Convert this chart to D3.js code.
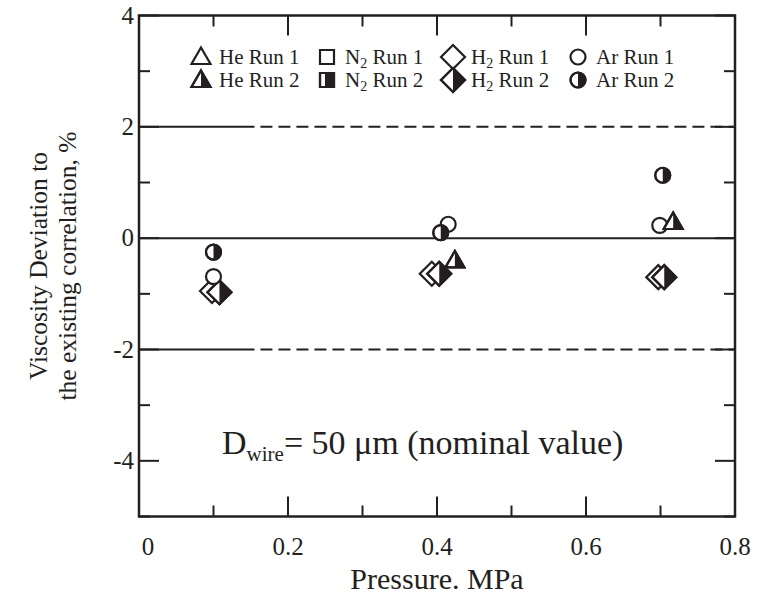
<!DOCTYPE html>
<html>
<head>
<meta charset="utf-8">
<script src="https://cdn.jsdelivr.net/npm/d3@7"></script>
<style>
  body { margin: 0; background: #fff; }
  svg text { font-family: "Liberation Serif", "Times New Roman", serif; fill: #231f20; }
</style>
</head>
<body>
<svg id="chart" width="760" height="598"></svg>
<script>
// data (pressure MPa, deviation %)
var heRun2 = [[0.424, -0.40], [0.717, 0.29]];
var h2Run1 = [[0.098, -0.95], [0.393, -0.64], [0.697, -0.70]];
var h2Run2 = [[0.108, -0.97], [0.403, -0.64], [0.705, -0.70]];
var arRun1 = [[0.100, -0.69], [0.415, 0.25], [0.699, 0.23]];
var arRun2 = [[0.100, -0.25], [0.405, 0.10], [0.703, 1.13]];

var xTicks = [0, 0.2, 0.4, 0.6, 0.8];
var yTicks = [-4, -2, 0, 2, 4];
var refLines = [2, -2];

var legendRow1 = ['He Run 1', 'N2 Run 1', 'H2 Run 1', 'Ar Run 1'];
var legendRow2 = ['He Run 2', 'N2 Run 2', 'H2 Run 2', 'Ar Run 2'];

var svg = d3.select('#chart');
var ink = '#231f20';

var x = d3.scaleLinear().domain([0, 0.8]).range([139, 735]);
var y = d3.scaleLinear().domain([-5, 4]).range([516.5, 15.5]);

// reference lines
svg.append('line')
  .attr('x1', x(0)).attr('x2', x(0.8))
  .attr('y1', y(0)).attr('y2', y(0))
  .attr('stroke', ink).attr('stroke-width', 2);

// +-2 % lines: solid stretch near the axis, dashed beyond
svg.selectAll('.refs').data(refLines).enter().append('line')
  .attr('class', 'refs')
  .attr('x1', x(0)).attr('x2', x(0.155))
  .attr('y1', function (d) { return y(d) })
  .attr('y2', function (d) { return y(d) })
  .attr('stroke', ink).attr('stroke-width', 2);
svg.selectAll('.refd').data(refLines).enter().append('line')
  .attr('class', 'refd')
  .attr('x1', x(0.163)).attr('x2', x(0.8))
  .attr('y1', function (d) { return y(d) })
  .attr('y2', function (d) { return y(d) })
  .attr('stroke', ink).attr('stroke-width', 2)
  .attr('stroke-dasharray', '12,6');

// ticks, drawn inward on all four sides
var minor = 11, major = 20;
var xAll = d3.range(0, 0.81, 0.1);
var yAll = d3.range(-5, 4.1, 1);
xAll.forEach(function (v) {
  var len = (Math.round(v * 10) % 2 === 0) ? major : minor;
  svg.append('line').attr('x1', x(v)).attr('x2', x(v))
    .attr('y1', y(-5)).attr('y2', y(-5) - len)
    .attr('stroke', ink).attr('stroke-width', 2);
  svg.append('line').attr('x1', x(v)).attr('x2', x(v))
    .attr('y1', y(4)).attr('y2', y(4) + len)
    .attr('stroke', ink).attr('stroke-width', 2);
});
yAll.forEach(function (v) {
  var len = (Math.round(v) % 2 === 0) ? major : minor;
  svg.append('line').attr('x1', x(0)).attr('x2', x(0) + len)
    .attr('y1', y(v)).attr('y2', y(v))
    .attr('stroke', ink).attr('stroke-width', 2);
  svg.append('line').attr('x1', x(0.8)).attr('x2', x(0.8) - len)
    .attr('y1', y(v)).attr('y2', y(v))
    .attr('stroke', ink).attr('stroke-width', 2);
});

// frame
svg.append('rect')
  .attr('x', x(0)).attr('y', y(4))
  .attr('width', x(0.8) - x(0)).attr('height', y(-5) - y(4))
  .attr('fill', 'none').attr('stroke', ink).attr('stroke-width', 2.5);

// tick labels
svg.selectAll('.xl').data(xTicks).enter().append('text')
  .attr('class', 'xl')
  .attr('x', function (d) { return x(d) + (d === 0 ? 9 : 0) })
  .attr('y', 555)
  .attr('text-anchor', 'middle')
  .attr('font-size', 25)
  .text(function (d) { return d === 0 ? '0' : d3.format('.1f')(d) });

svg.selectAll('.yl').data(yTicks).enter().append('text')
  .attr('class', 'yl')
  .attr('x', 134)
  .attr('y', function (d) { return y(d) + 8 })
  .attr('text-anchor', 'end')
  .attr('font-size', 25)
  .text(function (d) { return d });

// axis titles
svg.append('text')
  .attr('x', 437).attr('y', 589)
  .attr('text-anchor', 'middle')
  .attr('font-size', 30)
  .text('Pressure. MPa');

var yt = svg.append('text')
  .attr('transform', 'translate(47,266) rotate(-90)')
  .attr('text-anchor', 'middle')
  .attr('font-size', 25.5);
yt.append('tspan').attr('x', 0).attr('dy', 0).text('Viscosity Deviation to');
yt.append('tspan').attr('x', 0).attr('dy', 29).text('the existing correlation, %');

// annotation
var ann = svg.append('text')
  .attr('x', 222).attr('y', 454)
  .attr('font-size', 34);
ann.append('tspan').text('D');
ann.append('tspan').attr('font-size', 21).attr('dy', 7).text('wire');
ann.append('tspan').attr('dy', -7).text('= 50 \u03bcm (nominal value)');

// marker shapes
var shapes = {
  tri: { outline: 'M0,-9.5L9.5,7L-9.5,7Z', half: 'M0,-9.5L9.5,7L0,7Z' },
  sq: { outline: 'M-7,-7H7V7H-7Z', half: 'M-2,-7H7V7H-2Z' },
  dia: { outline: 'M0,-12L12,0L0,12L-12,0Z', half: 'M0,-12L12,0L0,12Z' },
  cir: { outline: 'M0,-7.5A7.5,7.5 0 1,1 0,7.5A7.5,7.5 0 1,1 0,-7.5Z', half: 'M0,-7.5A7.5,7.5 0 0,1 0,7.5Z' }
};

function marker(g, shape, filled, cx, cy) {
  var m = g.append('g').attr('transform', 'translate(' + cx + ',' + cy + ')');
  m.append('path').attr('d', shapes[shape].outline)
    .attr('fill', '#fff').attr('stroke', ink).attr('stroke-width', 2.2);
  if (filled) {
    m.append('path').attr('d', shapes[shape].half).attr('fill', ink);
    m.append('path').attr('d', shapes[shape].outline)
      .attr('fill', 'none').attr('stroke', ink).attr('stroke-width', 2.2);
  }
}

var plot = svg.append('g');
var series = [
  { data: h2Run1, shape: 'dia', filled: false },
  { data: h2Run2, shape: 'dia', filled: true },
  { data: arRun1, shape: 'cir', filled: false },
  { data: arRun2, shape: 'cir', filled: true },
  { data: heRun2, shape: 'tri', filled: true }
];
series.forEach(function (s) {
  s.data.forEach(function (d) { marker(plot, s.shape, s.filled, x(d[0]), y(d[1])) });
});

// legend
var legShapes = ['tri', 'sq', 'dia', 'cir'];
var legX = [201, 327, 453, 578];
var rowY = [57, 80];
function legLabel(t, lx, ly) {
  var el = svg.append('text').attr('x', lx).attr('y', ly + 7).attr('font-size', 21);
  var m = t.match(/^(\w)2(.*)$/);
  if (m) {
    el.append('tspan').text(m[1]);
    el.append('tspan').attr('font-size', 14).attr('dy', 4).text('2');
    el.append('tspan').attr('dy', -4).text(m[2]);
  } else {
    el.text(t);
  }
}
var leg = svg.append('g');
[legendRow1, legendRow2].forEach(function (row, r) {
  row.forEach(function (t, i) {
    marker(leg, legShapes[i], r === 1, legX[i], rowY[r]);
    legLabel(t, legX[i] + 18, rowY[r]);
  });
});
</script>
</body>
</html>
